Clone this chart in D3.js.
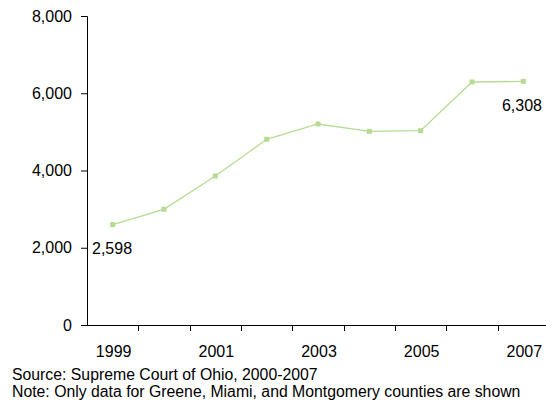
<!DOCTYPE html>
<html><head><meta charset="utf-8">
<script src="https://cdn.jsdelivr.net/npm/d3@7"></script>
<style>body{margin:0;background:#fff}svg{display:block}text{font-family:"Liberation Sans",Arial,sans-serif;fill:#000}</style>
</head><body>
<svg id="c" width="546" height="401"></svg>
<script>
const years = ["1999","2000","2001","2002","2003","2004","2005","2006","2007"];
const values = [2598, 2995, 3858, 4807, 5204, 5014, 5030, 6291, 6308];
const yTicks = [0, 2000, 4000, 6000, 8000];
const xLabels = ["1999","2001","2003","2005","2007"];
const notes = ["Source: Supreme Court of Ohio, 2000-2007",
               "Note: Only data for Greene, Miami, and Montgomery counties are shown"];

(function(){
const svg = d3.select("#c");
const pL = 87, pR = 549, pT = 16, pB = 325;
const x = d3.scaleBand().domain(years).range([pL, pR]);
const y = d3.scaleLinear().domain([0, 8000]).range([pB, pT]);
const fmt = d3.format(",");

// Y axis
const ya = svg.append("g").attr("transform", `translate(${pL},0)`)
  .call(d3.axisLeft(y).tickValues(yTicks).tickFormat(fmt).tickSize(6).tickPadding(9));
ya.select(".domain").attr("stroke", "#000").attr("d", `M-6,${y(8000)+0.5}H0.5V${pB}`);
ya.selectAll("text").style("font-size", "16px").attr("font-family", null);

// X axis: ticks at band boundaries
const xa = svg.append("g").attr("transform", `translate(0,${pB})`);
xa.append("line").attr("x1", pL).attr("x2", pR).attr("y1", 0.5).attr("y2", 0.5).attr("stroke", "#000");
xa.selectAll(".tk").data(years).enter().append("line")
  .attr("x1", d => Math.round(x(d) + x.bandwidth())+0.5)
  .attr("x2", d => Math.round(x(d) + x.bandwidth())+0.5)
  .attr("y1", 0).attr("y2", 6).attr("stroke", "#000");
xa.selectAll(".lb").data(xLabels).enter().append("text")
  .attr("x", d => x(d) + x.bandwidth()/2 + 1)
  .attr("y", 32).attr("text-anchor", "middle").style("font-size", "16px").text(d => d);

// Line
const cx = d => x(d) + x.bandwidth()/2;
const data = years.map((d, i) => ({year: d, v: values[i]}));
svg.append("path").datum(data)
  .attr("fill", "none").attr("stroke", "#b5dc92").attr("stroke-width", 1.3)
  .attr("d", d3.line().x(d => cx(d.year)).y(d => y(d.v)));
svg.selectAll(".m").data(data).enter().append("rect")
  .attr("x", d => cx(d.year) - 2.5).attr("y", d => y(d.v) - 2.5)
  .attr("width", 5).attr("height", 5).attr("fill", "#b5dc92");

// Value labels
svg.append("text").attr("x", 92).attr("y", 254).style("font-size", "16px").text(fmt(values[0]));
svg.append("text").attr("x", 542).attr("y", 110.5).attr("text-anchor", "end").style("font-size", "16px").text(fmt(values[values.length-1]));

// Notes
svg.selectAll(".n").data(notes).enter().append("text")
  .attr("x", 12).attr("y", (d, i) => 380 + i * 16.5).style("font-size", "15.8px").text(d => d);
})();
</script>
</body></html>
